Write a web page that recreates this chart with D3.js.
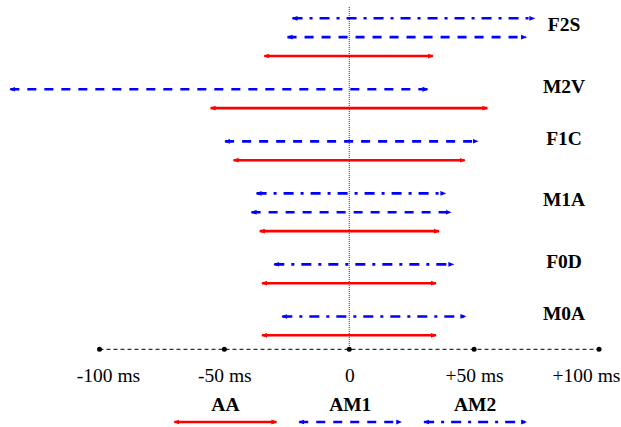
<!DOCTYPE html>
<html>
<head>
<meta charset="utf-8">
<script src="https://cdn.jsdelivr.net/npm/d3@7/dist/d3.min.js"></script>
<style>
  body { margin: 0; background: #fff; }
  svg { display: block; font-family: "Liberation Serif", "Times New Roman", serif; }
</style>
</head>
<body>
<svg id="chart" width="621" height="427"></svg>
<script>
// speakers / conditions, top to bottom
var groups = ["F2S", "M2V", "F1C", "M1A", "F0D", "M0A"];
var seriesNames = ["AA", "AM1", "AM2"];

// interval ends in ms (null = no line for that group)
var aaLo  = [-34, -55.5, -46.3, -35.8, -34.9, -34.9];
var aaHi  = [33.5, 55.3, 46.2, 35.9, 34.7, 34.7];
var am1Lo = [-24.7, -135.7, -49.7, -39.1, null, null];
var am1Hi = [70.8, 31.3, 51.4, 40.6, null, null];
var am2Lo = [-22.7, null, null, -37.1, -30.0, -26.8];
var am2Hi = [74.1, null, null, 38.5, 41.7, 46.5];

var tickValues = [-100, -50, 0, 50, 100];
var tickLabels = ["-100 ms", "-50 ms", "0", "+50 ms", "+100 ms"];

var svg = d3.select("#chart");

var colour = {AA: "#ff0000", AM1: "#0000ff", AM2: "#0000ff"};
var dash = {AA: null, AM1: "9,8", AM2: "10,7,3,7"};

var x = d3.scaleLinear().domain([-100, 100]).range([99.5, 599]);

// build rows: AM2 on top, then AM1, then AA within each group
var lo = {AA: aaLo, AM1: am1Lo, AM2: am2Lo},
    hi = {AA: aaHi, AM1: am1Hi, AM2: am2Hi};
var rows = [], slot = 0, groupGap = 1.76;
groups.forEach(function(gname, gi) {
  if (gi > 0) slot += groupGap - 1;
  var first = slot;
  ["AM2", "AM1", "AA"].forEach(function(s) {
    if (lo[s][gi] == null) return;
    rows.push({group: gname, series: s, lo: lo[s][gi], hi: hi[s][gi], slot: slot});
    slot += 1;
  });
  groups[gi] = {name: gname, mid: (first + slot - 1) / 2};
});

var y = d3.scaleLinear().domain([0, rows[rows.length - 1].slot]).range([18.3, 335.3]);
var axisY = 349.3;

// arrow markers, one per colour
var defs = svg.append("defs");
["AA", "AM1"].forEach(function(s) {
  defs.append("marker")
      .attr("id", "arr-" + s)
      .attr("viewBox", "0 0 6 6")
      .attr("refX", 5).attr("refY", 3)
      .attr("markerWidth", 6).attr("markerHeight", 6)
      .attr("markerUnits", "userSpaceOnUse")
      .attr("orient", "auto-start-reverse")
    .append("path")
      .attr("d", "M0,0.6L6,3L0,5.4Z")
      .attr("fill", colour[s]);
});
function markerId(s) { return s == "AA" ? "url(#arr-AA)" : "url(#arr-AM1)"; }

// zero line
svg.append("line")
    .attr("x1", x(0)).attr("x2", x(0))
    .attr("y1", 7).attr("y2", axisY)
    .style("stroke", "#333")
    .style("stroke-width", 1)
    .style("stroke-dasharray", "1,1");

// intervals
svg.selectAll(".range")
  .data(rows)
  .enter().append("line")
    .attr("class", "range")
    .attr("x1", function(d) { return x(d.lo); })
    .attr("x2", function(d) { return x(d.hi); })
    .attr("y1", function(d) { return y(d.slot); })
    .attr("y2", function(d) { return y(d.slot); })
    .style("stroke", function(d) { return colour[d.series]; })
    .style("stroke-width", 2.6)
    .style("stroke-dasharray", function(d) { return dash[d.series]; })
    .attr("marker-start", function(d) { return markerId(d.series); })
    .attr("marker-end", function(d) { return markerId(d.series); });

// group labels
svg.selectAll(".glabel")
  .data(groups)
  .enter().append("text")
    .attr("class", "glabel")
    .attr("x", 564)
    .attr("y", function(d) { return y(d.mid) - 5.8; })
    .attr("text-anchor", "middle")
    .style("font-size", "19.5px")
    .style("font-weight", "bold")
    .text(function(d) { return d.name; });

// time axis
svg.append("line")
    .attr("x1", x(-100)).attr("x2", x(100))
    .attr("y1", axisY).attr("y2", axisY)
    .style("stroke", "#000")
    .style("stroke-width", 1)
    .style("stroke-dasharray", "4,3");

svg.selectAll(".tickdot")
  .data(tickValues)
  .enter().append("circle")
    .attr("class", "tickdot")
    .attr("cx", function(d) { return x(d); })
    .attr("cy", axisY)
    .attr("r", 2.5)
    .style("fill", "#000");

var axis = svg.append("g")
    .attr("transform", "translate(0," + axisY + ")")
    .call(d3.axisBottom(x)
      .tickValues(tickValues)
      .tickSize(0)
      .tickFormat(function(d, i) { return tickLabels[i]; }));
axis.select(".domain").remove();
axis.selectAll("text")
    .attr("y", 33)
    .attr("dy", null)
    .attr("dx", function(d) { return d == -100 ? 8.5 : d == 100 ? -13 : 0; })
    .style("font-family", "Liberation Serif, serif")
    .style("font-size", "19.5px")
    .style("fill", "#000");

// legend
var legendX = [-50, 0, 50];
var legend = svg.selectAll(".legend")
  .data(seriesNames)
  .enter().append("g")
    .attr("class", "legend")
    .attr("transform", function(d, i) { return "translate(" + (x(legendX[i]) + 1) + ",0)"; });

legend.append("text")
    .attr("y", 411)
    .attr("text-anchor", "middle")
    .style("font-size", "19.5px")
    .style("font-weight", "bold")
    .text(function(d) { return d; });

legend.append("line")
    .attr("x1", -51).attr("x2", 51)
    .attr("y1", 422).attr("y2", 422)
    .style("stroke", function(d) { return colour[d]; })
    .style("stroke-width", 2.6)
    .style("stroke-dasharray", function(d) { return dash[d]; })
    .attr("marker-start", function(d) { return markerId(d); })
    .attr("marker-end", function(d) { return markerId(d); });
</script>
</body>
</html>
